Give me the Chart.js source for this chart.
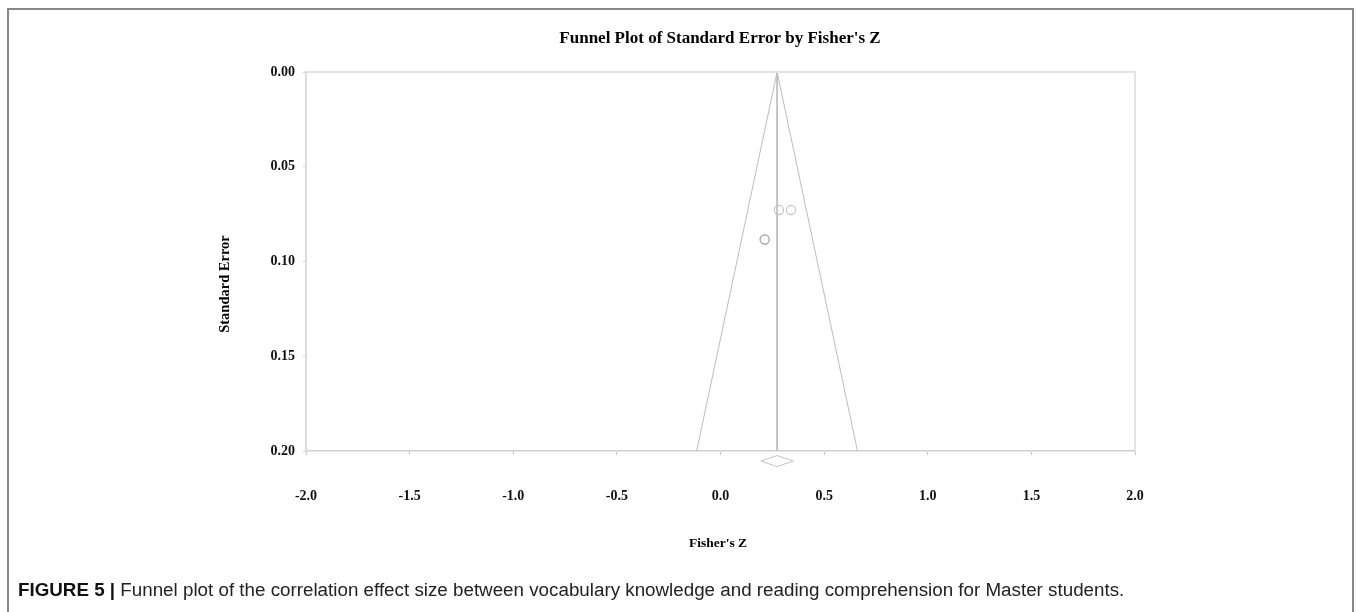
<!DOCTYPE html>
<html>
<head>
<meta charset="utf-8">
<script src="https://cdn.jsdelivr.net/npm/chart.js@4/dist/chart.umd.min.js"></script>
<style>
  html, body { margin: 0; padding: 0; background: #fff; }
  #wrap { position: relative; width: 1358px; height: 612px; overflow: hidden; }
  #frame {
    position: absolute; left: 7px; top: 8px; width: 1347px; height: 640px;
    border: 2px solid #888; border-bottom: none; box-sizing: border-box;
  }
  #plot { position: absolute; left: 0; top: 0; }
  #caption {
    position: absolute; left: 18px; top: 579px; line-height: 22px;
    font-family: 'Liberation Sans', Arial, sans-serif; font-size: 18.8px; color: #222;
    white-space: nowrap;
  }
  #caption b { font-weight: bold; color: #111; }
</style>
</head>
<body>
<div id="wrap">
  <div id="frame"></div>
  <canvas id="plot" width="1358" height="612"></canvas>
  <div id="caption"><b>FIGURE 5 |</b> Funnel plot of the correlation effect size between vocabulary knowledge and reading comprehension for Master students.</div>
</div>
<script>
// Observed studies (Fisher's Z, standard error)
const studyZ = [0.282, 0.340, 0.213];
const studySE = [0.0728, 0.0728, 0.0884];

// Pooled estimate and its 95% interval
const pooledZ = 0.273;
const pooledLower = 0.195;
const pooledUpper = 0.352;

// Pseudo-confidence funnel (limits at SE = 0.20 and apex at SE = 0)
const funnelZ = [-0.115, 0.273, 0.661];
const funnelSE = [0.20, 0.00, 0.20];

// Summary diamond drawn just below the axis (SE units)
const diamondZ = [pooledLower, pooledZ, pooledUpper, pooledZ, pooledLower];
const diamondSE = [0.2053, 0.2024, 0.2053, 0.2082, 0.2053];

// Axis tick labels
const xTickLabels = ['-2.0', '-1.5', '-1.0', '-0.5', '0.0', '0.5', '1.0', '1.5', '2.0'];
const yTickLabels = ['0.00', '0.05', '0.10', '0.15', '0.20'];

const chartTitle = "Funnel Plot of Standard Error by Fisher's Z";
const xTitle = "Fisher's Z";
const yTitle = 'Standard Error';

const serif = "'Liberation Serif', 'Times New Roman', serif";
const tickFont = { family: serif, size: 14, weight: 'bold' };

const toPoints = (xs, ys) => xs.map((x, i) => ({ x, y: ys[i] }));

// Box around the plot area plus the chart and axis titles
const decorations = {
  id: 'decorations',
  afterDraw(chart) {
    const { ctx, chartArea: a } = chart;
    ctx.save();
    ctx.strokeStyle = '#e3e3e3';
    ctx.lineWidth = 2;
    ctx.beginPath();
    ctx.moveTo(a.left, a.top);
    ctx.lineTo(a.right, a.top);
    ctx.lineTo(a.right, a.bottom);
    ctx.stroke();

    ctx.fillStyle = '#000';
    ctx.textAlign = 'center';
    ctx.textBaseline = 'middle';
    ctx.font = 'bold 17px ' + serif;
    ctx.fillText(chartTitle, 720, 39);

    ctx.font = 'bold 13.5px ' + serif;
    ctx.fillText(xTitle, 718, 544);

    ctx.font = 'bold 14.5px ' + serif;
    ctx.translate(225, 284);
    ctx.rotate(-Math.PI / 2);
    ctx.fillText(yTitle, 0, 0);
    ctx.restore();
  }
};

new Chart(document.getElementById('plot'), {
  type: 'scatter',
  data: {
    datasets: [
      {
        label: 'Funnel',
        data: toPoints(funnelZ, funnelSE),
        showLine: true,
        borderColor: '#bdbdbd',
        borderWidth: 1,
        pointRadius: 0,
        fill: false
      },
      {
        label: 'Pooled',
        data: toPoints([pooledZ, pooledZ], [0, 0.20]),
        showLine: true,
        borderColor: '#bdbdbd',
        borderWidth: 1,
        pointRadius: 0,
        fill: false
      },
      {
        label: 'Summary',
        data: toPoints(diamondZ, diamondSE),
        showLine: true,
        borderColor: '#c4c4c4',
        borderWidth: 1,
        pointRadius: 0,
        fill: false,
        clip: false
      },
      {
        label: 'Studies',
        data: toPoints(studyZ, studySE),
        showLine: false,
        pointStyle: 'circle',
        pointRadius: 4.6,
        pointBorderWidth: 1.2,
        pointBackgroundColor: 'rgba(255,255,255,0)',
        pointBorderColor: ['#c6c6c6', '#c6c6c6', '#9a9a9a']
      }
    ]
  },
  options: {
    responsive: false,
    animation: false,
    layout: { padding: { left: 0, right: 223, top: 72, bottom: 0 } },
    plugins: { legend: { display: false }, tooltip: { enabled: false }, title: { display: false } },
    scales: {
      x: {
        type: 'linear',
        min: -2, max: 2,
        afterFit(s) { s.height = 161; },
        ticks: {
          stepSize: 0.5,
          padding: 33,
          color: '#111',
          font: tickFont,
          callback: (v) => xTickLabels[Math.round((v + 2) / 0.5)]
        },
        grid: { drawOnChartArea: false, tickLength: 4, color: '#c8c8c8' },
        border: { color: '#cfcfcf', width: 1.5 }
      },
      y: {
        type: 'linear',
        reverse: true,
        min: 0, max: 0.2,
        afterFit(s) { s.width = 306; },
        ticks: {
          stepSize: 0.05,
          padding: 8,
          color: '#111',
          font: tickFont,
          callback: (v) => yTickLabels[Math.round(v / 0.05)]
        },
        grid: { drawOnChartArea: false, tickLength: 3, color: '#d0d0d0' },
        border: { color: '#dcdcdc', width: 2 }
      }
    }
  },
  plugins: [decorations]
});
</script>
</body>
</html>
